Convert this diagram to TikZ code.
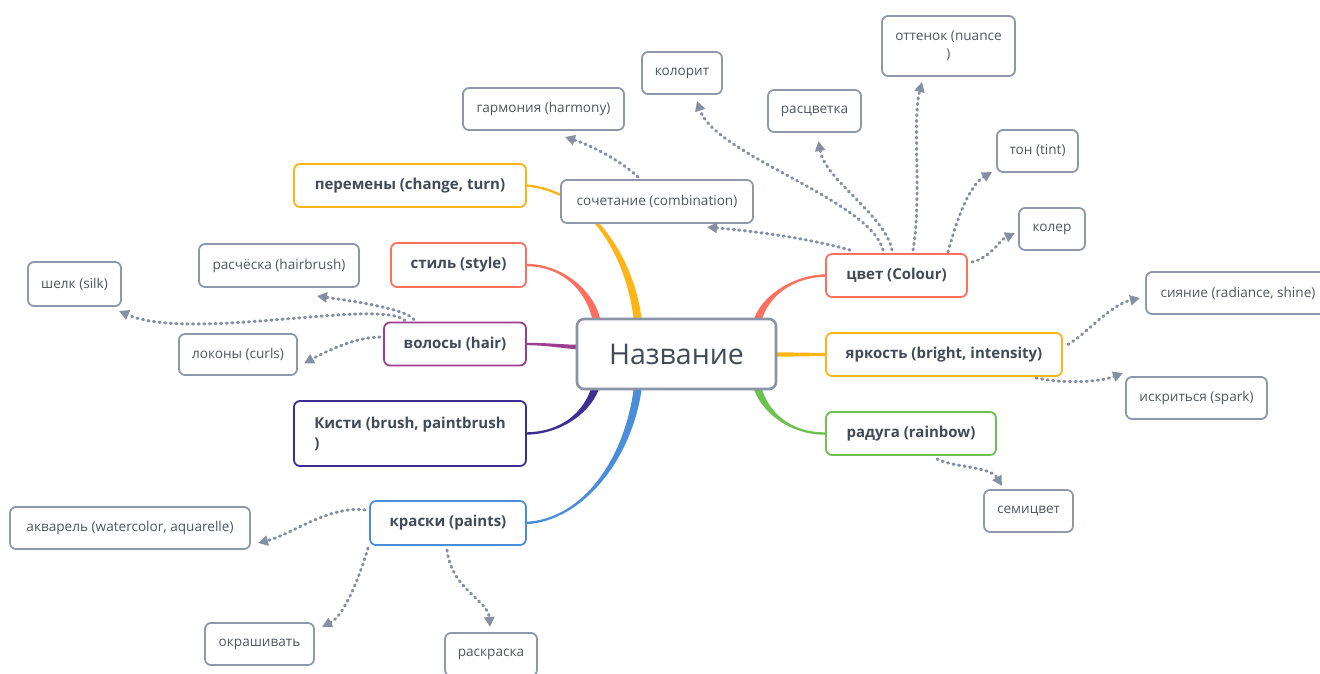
\documentclass[tikz,border=0pt]{standalone}
\usepackage{fontspec}
\setmainfont{Open Sans}
\usetikzlibrary{arrows.meta,calc,backgrounds}
\definecolor{cOrange}{HTML}{FDB515}
\definecolor{cRed}{HTML}{FF6F5E}
\definecolor{cPurple}{HTML}{9C3E8E}
\definecolor{cPurpleDark}{HTML}{3F2E91}
\definecolor{cBlue}{HTML}{4A8EDB}
\definecolor{cGreen}{HTML}{6DC14E}
\definecolor{subBorder}{HTML}{8E98AA}
\definecolor{arrowGray}{HTML}{8690A2}
\definecolor{centerBorder}{HTML}{8A94A6}
\definecolor{mainText}{HTML}{414A55}
\definecolor{subText}{HTML}{50575F}
\newcommand\mmtaper[7]{\fill[#1] ($#2+#6$) .. controls ($#3+#6$) and ($#4+#7$) .. ($#5+#7$) -- ($#5-#7$) .. controls ($#4-#7$) and ($#3-#6$) .. ($#2-#6$) -- cycle;}
\begin{document}
\begin{tikzpicture}[x=1pt,y=-1pt,
  every node/.style={inner sep=0pt, outer sep=0pt},
  topic/.style={draw=#1, line width=1.8pt, rounded corners=6pt, fill=white, text=mainText, font=\fontsize{15}{20}\selectfont\bfseries, align=center},
  sub/.style={draw=subBorder, line width=1.8pt, rounded corners=6pt, fill=white, text=subText, font=\fontsize{13.6}{18}\selectfont, align=center},
  link/.style={draw=arrowGray, line width=3pt, line cap=round, dash pattern=on 1.2pt off 4.4pt, -{Triangle[length=10pt,width=10pt]}},
]
\useasboundingbox (0,0) rectangle (1320,673);

% central
\node[draw=centerBorder, line width=2.6pt, rounded corners=7pt, fill=white, minimum width=199pt, minimum height=70pt, font=\fontsize{28.5}{32}\selectfont, text=mainText] (center) at (676.5,354) {Название};

% main topics
\node[topic=cOrange, minimum width=232pt, minimum height=43pt] (perem) at (410,185.5) {перемены (change, turn)};
\node[topic=cRed, minimum width=135pt, minimum height=44pt] (stil) at (458.5,265) {стиль (style)};
\node[topic=cPurple, minimum width=142pt, minimum height=43pt] (volos) at (455,344) {волосы (hair)};
\node[topic=cPurpleDark, minimum width=232pt, minimum height=65pt, align=left] (kisti) at (410,433.5) {Кисти (brush, paintbrush\\)};
\node[topic=cBlue, minimum width=156pt, minimum height=44pt] (kraski) at (448,523) {краски (paints)};
\node[topic=cRed, minimum width=141pt, minimum height=43pt] (cvet) at (896.5,275.5) {цвет (Colour)};
\node[topic=cOrange, minimum width=236pt, minimum height=43pt] (yark) at (944,354.5) {яркость (bright, intensity)};
\node[topic=cGreen, minimum width=170pt, minimum height=43pt] (rad) at (911,433.5) {радуга (rainbow)};

% subtopics
\node[sub, minimum width=192pt, minimum height=43pt] (soch) at (657,201.5) {сочетание (combination)};
\node[sub, minimum width=161pt, minimum height=42pt] (garm) at (543.5,109) {гармония (harmony)};
\node[sub, minimum width=80pt, minimum height=42pt] (kolo) at (682,73) {колорит};
\node[sub, minimum width=93pt, minimum height=42pt] (rasc) at (814.5,111) {расцветка};
\node[sub, minimum width=133pt, minimum height=60pt] (ott) at (948.5,46) {оттенок (nuance\\)};
\node[sub, minimum width=81pt, minimum height=42pt] (ton) at (1037.5,151) {тон (tint)};
\node[sub, minimum width=66pt, minimum height=42pt] (koler) at (1052,229) {колер};
\node[sub, minimum width=184pt, minimum height=42pt] (siyan) at (1238,293) {сияние (radiance, shine)};
\node[sub, minimum width=141pt, minimum height=42pt] (iskr) at (1196.5,398) {искриться (spark)};
\node[sub, minimum width=89pt, minimum height=42pt] (semi) at (1028.5,511) {семицвет};
\node[sub, minimum width=160pt, minimum height=43pt] (rasch) at (279,265.5) {расчёска (hairbrush)};
\node[sub, minimum width=93pt, minimum height=44pt] (shelk) at (74.5,284) {шелк (silk)};
\node[sub, minimum width=118pt, minimum height=41pt] (lokon) at (238,354.5) {локоны (curls)};
\node[sub, minimum width=240pt, minimum height=42pt] (akv) at (130,528) {акварель (watercolor, aquarelle)};
\node[sub, minimum width=109pt, minimum height=42pt] (okr) at (259.5,644) {окрашивать};
\node[sub, minimum width=92pt, minimum height=43pt] (raskr) at (491,654.5) {раскраска};

% branch end points on the central node
\coordinate (ePerem) at ($(center.north west)+(61,3)$);
\coordinate (eStil) at ($(center.north west)+(20,3)$);
\coordinate (eVolos) at ($(center.west)+(3,-7)$);
\coordinate (eKisti) at ($(center.south west)+(19,-3)$);
\coordinate (eKraski) at ($(center.south west)+(61,-3)$);
\coordinate (eCvet) at ($(center.north east)+(-19,3)$);
\coordinate (eYark) at ($(center.east)+(-3,0.5)$);
\coordinate (eRad) at ($(center.south east)+(-19,-3)$);

\begin{scope}[on background layer]
\fill[white] (0,0) rectangle (1320,673);
\mmtaper{cOrange}{(perem.east)}{(585,190)}{(630,250)}{(ePerem)}{(0,-1.2)}{(4,0)}
\mmtaper{cRed}{(stil.east)}{(560,265)}{(590,288)}{(eStil)}{(0,-1.2)}{(4,0)}
\mmtaper{cPurple}{(volos.east)}{(550,344)}{(565,347)}{(eVolos)}{(0,-1.2)}{(0,-2.2)}
\mmtaper{cPurpleDark}{(kisti.east)}{(562,433)}{(588,412)}{(eKisti)}{(0,-1.2)}{(-4,0)}
\mmtaper{cBlue}{(kraski.east)}{(585,520)}{(630,455)}{(eKraski)}{(0,-1.2)}{(-4,0)}
\mmtaper{cRed}{(cvet.west)}{(793,276)}{(764,296)}{(eCvet)}{(0,1.2)}{(4,0)}
\mmtaper{cOrange}{(yark.west)}{(810,354.5)}{(790,354.5)}{(eYark)}{(0,1.6)}{(0,2.2)}
\mmtaper{cGreen}{(rad.west)}{(790,434)}{(764,412)}{(eRad)}{(0,1.2)}{(-4,0)}
\end{scope}

% dotted links
\draw[link] ($(cvet.north west)+(24,-4)$) .. controls (800,236) and (740,230) .. ($(soch.south east)+(-46,4)$);
\draw[link] ($(soch.north)+(-19,-3)$) .. controls (620,160) and (590,145) .. ($(garm.south)+(21.5,7)$);
\draw[link] ($(cvet.north west)+(57,-4)$) .. controls (870,200) and (715,155) .. ($(kolo.south)+(15,7)$);
\draw[link] ($(cvet.north west)+(66,-4)$) .. controls (885,215) and (825,180) .. ($(rasc.south)+(4,9)$);
\draw[link] ($(cvet.north west)+(87,-4)$) .. controls (922,200) and (912,120) .. ($(ott.south)+(-26.5,6)$);
\draw[link] ($(cvet.north west)+(122,-2)$) .. controls (958,215) and (970,185) .. ($(ton.south west)+(-5,0)$);
\draw[link] ($(cvet.north east)+(5,8)$) .. controls (990,258) and (1000,240) .. ($(koler.west)+(-4,4)$);
\draw[link] ($(yark.east)+(6,-10)$) .. controls (1085,335) and (1110,305) .. ($(siyan.west)+(-6,5)$);
\draw[link] ($(yark.south east)+(-26,2)$) .. controls (1065,384) and (1100,382) .. ($(iskr.north west)+(-3,-4)$);
\draw[link] ($(rad.south)+(26,4)$) .. controls (955,468) and (990,466) .. ($(semi.north west)+(18,-4)$);
\draw[link] ($(volos.north west)+(30,-3)$) .. controls (405,308) and (345,300) .. ($(rasch.south)+(38,9)$);
\draw[link] ($(volos.north west)+(21,-2)$) .. controls (380,298) and (190,342) .. ($(shelk.south east)+(-2,5)$);
\draw[link] ($(volos.west)+(-4,-7)$) .. controls (355,337) and (325,352) .. ($(lokon.east)+(7,9)$);
\draw[link] ($(kraski.west)+(-5,-13)$) .. controls (330,505) and (290,535) .. ($(akv.south east)+(8,-6)$);
\draw[link] ($(kraski.south west)+(-2,3)$) .. controls (360,575) and (345,615) .. ($(okr.north east)+(8,4)$);
\draw[link] ($(kraski.south)+(-1,5)$) .. controls (452,590) and (488,600) .. ($(raskr.north)+(-1,-6)$);
\end{tikzpicture}
\end{document}
